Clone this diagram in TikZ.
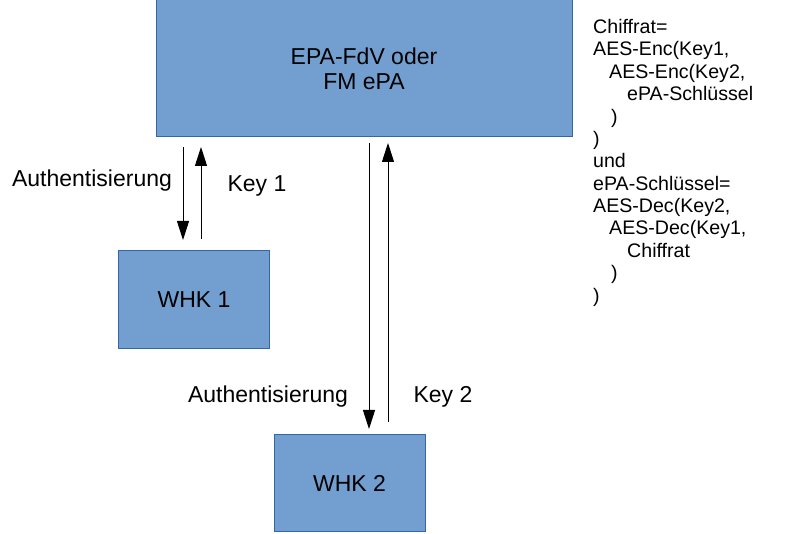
\documentclass[tikz,border=0pt]{standalone}
\usepackage{fontspec}
\setmainfont{Liberation Sans}
\usetikzlibrary{arrows.meta}
\definecolor{boxfill}{HTML}{729FCF}
\definecolor{boxdraw}{HTML}{3465A4}
\tikzset{
  box/.style={draw=boxdraw, fill=boxfill, line width=1pt, inner sep=0pt, align=center, font=\fontsize{23}{25}\selectfont},
  lbl/.style={inner sep=0pt, font=\fontsize{23}{25}\selectfont},
  arr/.style={line width=1pt, -{Triangle[length=19pt,width=12pt]}},
}
\begin{document}
\begin{tikzpicture}[x=1pt,y=-1pt]
\useasboundingbox (0,0) rectangle (807,534);
\node[box, minimum width=416pt, minimum height=137pt] (epa) at (364,68.5) {EPA-FdV oder\\FM ePA};
\node[box, minimum width=151pt, minimum height=98pt] (whk1) at (194,300) {WHK 1};
\node[box, minimum width=151pt, minimum height=97pt] (whk2) at (349.5,483.5) {WHK 2};
\coordinate (d1a) at (183,147);
\coordinate (d1b) at (183,240);
\coordinate (u1a) at (201,239);
\coordinate (u1b) at (201,147);
\coordinate (d2a) at (369,143);
\coordinate (d2b) at (369,429);
\coordinate (u2a) at (388,422);
\coordinate (u2b) at (388,143);
\draw[arr] (d1a) -- (d1b);
\draw[arr] (u1a) -- (u1b);
\draw[arr] (d2a) -- (d2b);
\draw[arr] (u2a) -- (u2b);
\node[lbl] (auth1) at (92,181) {Authentisierung};
\node[lbl] (key1) at (257,186) {Key 1};
\node[lbl] (auth2) at (268,397) {Authentisierung};
\node[lbl] (key2) at (443,397) {Key 2};
\node[anchor=north west, inner sep=0pt, align=left, font=\fontsize{19.6}{22.4}\selectfont] (formula) at (593,19)
{Chiffrat=\\
AES-Enc(Key1,\\
\hspace*{16pt}AES-Enc(Key2,\\
\hspace*{34pt}ePA-Schlüssel\\
\hspace*{18pt})\\
)\\
und\\
ePA-Schlüssel=\\
AES-Dec(Key2,\\
\hspace*{16pt}AES-Dec(Key1,\\
\hspace*{34pt}Chiffrat\\
\hspace*{18pt})\\
)};
\end{tikzpicture}
\end{document}
